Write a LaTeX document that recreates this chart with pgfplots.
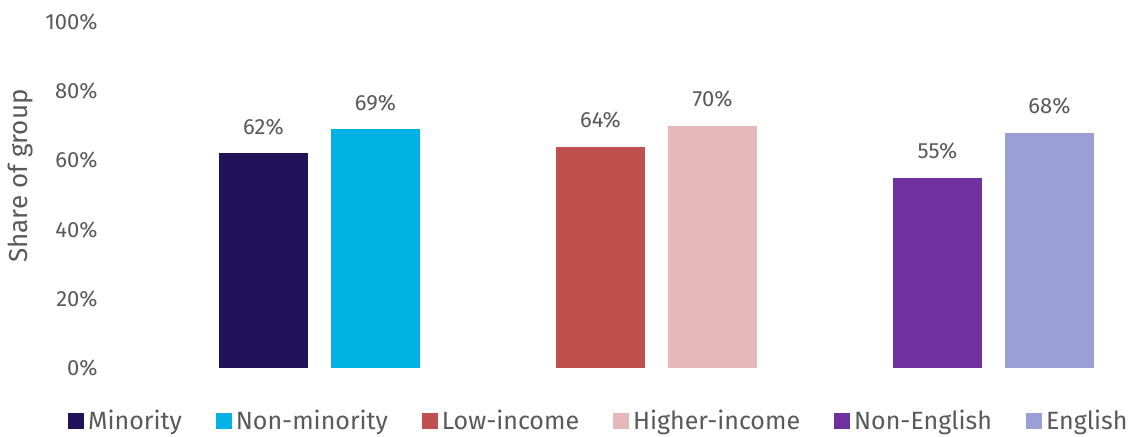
\documentclass[border=0pt]{standalone}
\usepackage{pgfplots}
\pgfplotsset{compat=1.18}
\usepackage{fontspec}
\setmainfont{Fira Sans}
\definecolor{txt}{HTML}{595959}
\definecolor{cA}{HTML}{211359}
\definecolor{cB}{HTML}{00B2E3}
\definecolor{cC}{HTML}{C0504D}
\definecolor{cD}{HTML}{E6B8B7}
\definecolor{cE}{HTML}{7030A0}
\definecolor{cF}{HTML}{9A9FD8}
\begin{document}
\begin{tikzpicture}
\useasboundingbox (0,0) rectangle (568pt,218pt);
\begin{axis}[
  at={(50pt,34pt)}, anchor=south west,
  scale only axis, width=518pt, height=173pt,
  xmin=100, xmax=1136, ymin=0, ymax=100,
  axis line style={draw=none}, tick style={draw=none},
  xtick=\empty,
  ytick={0,20,40,60,80,100},
  yticklabel={\pgfmathprintnumber{\tick}\%},
  /pgf/number format/assume math mode=true,
  yticklabel style={font=\fontsize{11}{13}\selectfont, text=txt, inner sep=0pt, anchor=east, xshift=-1pt},
  ylabel={Share of group},
  ylabel style={font=\fontsize{13}{15}\selectfont, text=txt, at={(axis description cs:-0.0772,0.555)}, anchor=center},
  ybar, bar width=89,
  nodes near coords={\pgfmathprintnumber{\pgfplotspointmeta}\%},
  every node near coord/.append style={font=\fontsize{11}{13}\selectfont, text=txt, inner sep=0pt, anchor=south, yshift=9pt},
  legend columns=6,
  legend style={draw=none, fill=none, at={(axis description cs:0.4825,-0.153)}, anchor=center,
    font=\fontsize{12.5}{15}\selectfont, text=txt,
    /tikz/every even column/.style={column sep=15pt}},
  legend image code/.code={\fill[#1] (-1.5pt,-4pt) rectangle (6.5pt,4pt);},
]
\addplot[fill=cA, draw=none, bar shift=0pt] coordinates {(263.5,62)};
\addlegendentry{Minority}
\addplot[fill=cB, draw=none, bar shift=0pt] coordinates {(375.5,69)};
\addlegendentry{Non-minority}
\addplot[fill=cC, draw=none, bar shift=0pt] coordinates {(600.5,64)};
\addlegendentry{Low-income}
\addplot[fill=cD, draw=none, bar shift=0pt] coordinates {(712.5,70)};
\addlegendentry{Higher-income}
\addplot[fill=cE, draw=none, bar shift=0pt] coordinates {(937.5,55)};
\addlegendentry{Non-English}
\addplot[fill=cF, draw=none, bar shift=0pt] coordinates {(1049.5,68)};
\addlegendentry{English}
\end{axis}
\end{tikzpicture}
\end{document}
